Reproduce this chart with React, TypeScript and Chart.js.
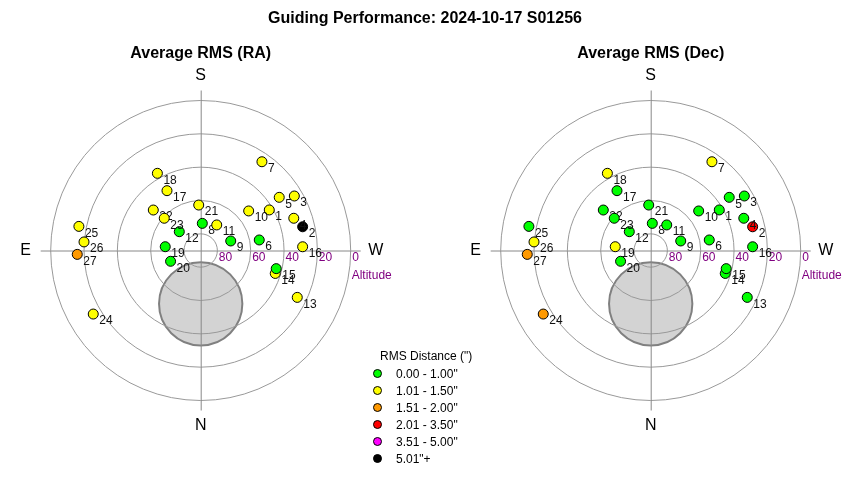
import React, { useEffect, useRef } from "react";
import { Chart, registerables } from "chart.js";

Chart.register(...registerables);

// ---- data ----
const mainTitle = "Guiding Performance: 2024-10-17 S01256";
const panelTitles = ["Average RMS (RA)", "Average RMS (Dec)"];
const sessionIds = [1, 2, 3, 4, 5, 6, 7, 8, 9, 10, 11, 12, 13, 14, 15, 16, 17, 18, 19, 20, 21, 22, 23, 24, 25, 26, 27];
// azimuth in degrees (N = 0, E = 90, S = 180, W = 270)
const azimuths = [239.4, 256.9, 239.8, 250.9, 235.9, 259.8, 214.6, 183.4, 252.4, 230.5, 212.1, 131.3, 295.9, 287.1, 283.5, 267.9, 150.6, 150.7, 96.1, 70.3, 177.5, 130.5, 131.5, 59.4, 101.2, 94.2, 88.2];
// altitude in degrees
const altitudes = [42.2, 27.2, 25.0, 30.9, 33.1, 54.3, 25.3, 73.7, 71.1, 52.7, 71.9, 72.9, 25.6, 43.2, 43.4, 28.8, 48.8, 36.9, 68.6, 70.8, 62.7, 52.6, 60.8, 15.1, 15.5, 19.8, 15.9];
// RMS bin index per session (see binLabels)
const raBins = [1, 5, 1, 1, 1, 0, 1, 0, 0, 1, 1, 0, 1, 1, 0, 1, 1, 1, 0, 0, 1, 1, 1, 1, 1, 1, 2];
const decBins = [0, 3, 0, 0, 0, 0, 1, 0, 0, 0, 0, 0, 0, 0, 0, 0, 0, 1, 1, 0, 0, 0, 0, 2, 0, 1, 2];
const legendTitle = 'RMS Distance (")';
const binLabels = ['0.00 - 1.00"', '1.01 - 1.50"', '1.51 - 2.00"', '2.01 - 3.50"', '3.51 - 5.00"', '5.01"+'];
const binColors = ["#00ff00", "#ffff00", "#ff9900", "#ff0000", "#ff00ff", "#000000"];
const altitudeRings = [80, 60, 40, 20, 0];
const altitudeAxisTitle = "Altitude";
const directionLabels = ["S", "N", "E", "W"];
const directionAzimuths = [180, 0, 90, 270];
const excludedZone = { azimuth: 0, altitude: 58, radius: 25 };

const FONT = "'Liberation Sans', Arial, Helvetica, sans-serif";
const DEG_RANGE = 110;

function toXY(az: number, alt: number, dist?: number) {
  const d = dist !== undefined ? dist : 90 - alt;
  const a = (az * Math.PI) / 180;
  return { x: -d * Math.sin(a), y: -d * Math.cos(a) };
}

function makeSkyPlugin(title: string, bins: number[]) {
  return {
    id: "skyPlot",
    beforeDatasetsDraw(chart: any) {
      const ctx = chart.ctx as CanvasRenderingContext2D;
      const xs = chart.scales.x;
      const ys = chart.scales.y;
      const cx = xs.getPixelForValue(0);
      const cy = ys.getPixelForValue(0);
      const pxPerDeg = xs.getPixelForValue(1) - cx;
      ctx.save();
      // excluded zone
      const ez = toXY(excludedZone.azimuth, excludedZone.altitude);
      ctx.beginPath();
      ctx.arc(xs.getPixelForValue(ez.x), ys.getPixelForValue(ez.y), excludedZone.radius * pxPerDeg, 0, Math.PI * 2);
      ctx.fillStyle = "#d3d3d3";
      ctx.fill();
      ctx.lineWidth = 2;
      ctx.strokeStyle = "#808080";
      ctx.stroke();
      // rings
      ctx.lineWidth = 1;
      ctx.strokeStyle = "#999999";
      altitudeRings.forEach((alt) => {
        ctx.beginPath();
        ctx.arc(cx, cy, (90 - alt) * pxPerDeg, 0, Math.PI * 2);
        ctx.stroke();
      });
      // axes
      ctx.strokeStyle = "#888888";
      ctx.beginPath();
      ctx.moveTo(xs.getPixelForValue(-96), cy + 0.5);
      ctx.lineTo(xs.getPixelForValue(96), cy + 0.5);
      ctx.moveTo(cx + 0.5, ys.getPixelForValue(96));
      ctx.lineTo(cx + 0.5, ys.getPixelForValue(-96));
      ctx.stroke();
      // altitude labels
      ctx.fillStyle = "#800080";
      ctx.font = `12px ${FONT}`;
      ctx.textAlign = "left";
      ctx.textBaseline = "middle";
      altitudeRings.forEach((alt) => {
        ctx.fillText(String(alt), xs.getPixelForValue(90 - alt) + 1.5, cy + 7.5);
      });
      ctx.fillText(altitudeAxisTitle, xs.getPixelForValue(90) + 1, cy + 25);
      // direction labels
      ctx.fillStyle = "#000";
      ctx.font = `16px ${FONT}`;
      ctx.textAlign = "center";
      directionLabels.forEach((lab, i) => {
        const p = toXY(directionAzimuths[i], 0, 105);
        ctx.fillText(lab, xs.getPixelForValue(p.x), ys.getPixelForValue(p.y));
      });
      // panel title
      ctx.font = `bold 16px ${FONT}`;
      ctx.fillText(title, cx, 54);
      ctx.restore();
    },
    afterDatasetDraw(chart: any, args: any) {
      const el = args.meta.data[0];
      if (!el) return;
      const ctx = chart.ctx as CanvasRenderingContext2D;
      ctx.save();
      ctx.fillStyle = "#111";
      ctx.font = `12px ${FONT}`;
      ctx.textAlign = "left";
      ctx.textBaseline = "middle";
      ctx.fillText(String(sessionIds[args.index]), el.x + 6, el.y + 7);
      ctx.restore();
    },
  };
}

function buildChart(canvas: HTMLCanvasElement, title: string, bins: number[], centerX: number, centerY: number) {
  const span = (DEG_RANGE * 5) / 3;
  const w = canvas.width;
  const h = canvas.height;
  return new Chart(canvas, {
    type: "scatter",
    data: {
      datasets: sessionIds.map((id, i) => ({
        label: String(id),
        data: [toXY(azimuths[i], altitudes[i])],
        backgroundColor: binColors[bins[i]],
        borderColor: "#000",
        borderWidth: 1,
        pointRadius: 5,
        pointHoverRadius: 5,
        order: -i,
        clip: false as any,
      })),
    },
    options: {
      responsive: false,
      animation: false,
      events: [],
      layout: {
        padding: {
          left: centerX - span,
          right: w - (centerX + span),
          top: centerY - span,
          bottom: h - (centerY + span),
        },
      },
      scales: {
        x: { type: "linear", min: -DEG_RANGE, max: DEG_RANGE, display: false },
        y: { type: "linear", min: -DEG_RANGE, max: DEG_RANGE, display: false },
      },
      plugins: {
        legend: { display: false },
        tooltip: { enabled: false },
        title: { display: false },
      },
    },
    plugins: [makeSkyPlugin(title, bins)],
  } as any);
}

export default function App() {
  const leftRef = useRef<HTMLCanvasElement>(null);
  const rightRef = useRef<HTMLCanvasElement>(null);

  useEffect(() => {
    const charts: Chart[] = [];
    if (leftRef.current) charts.push(buildChart(leftRef.current, panelTitles[0], raBins, 200.7, 250.5));
    if (rightRef.current) charts.push(buildChart(rightRef.current, panelTitles[1], decBins, 225.7, 250.5));
    return () => charts.forEach((c) => c.destroy());
  }, []);

  return (
    <div style={{ position: "absolute", left: 0, top: 0, width: 850, height: 480, background: "#fff", fontFamily: FONT, overflow: "hidden" }}>
      <canvas ref={leftRef} width={425} height={480} style={{ position: "absolute", left: 0, top: 0, width: 425, height: 480 }} />
      <canvas ref={rightRef} width={425} height={480} style={{ position: "absolute", left: 425, top: 0, width: 425, height: 480 }} />
      <div style={{ position: "absolute", left: 0, top: 8, width: 850, textAlign: "center", fontWeight: "bold", fontSize: 16, lineHeight: "20px", color: "#000" }}>
        {mainTitle}
      </div>
      <div style={{ position: "absolute", left: 380, top: 349, fontSize: 12, lineHeight: "15px", color: "#000", whiteSpace: "nowrap" }}>
        {legendTitle}
      </div>
      {binLabels.map((lab, i) => (
        <div key={lab} style={{ position: "absolute", left: 373, top: 365 + i * 17, height: 17, display: "flex", alignItems: "center", fontSize: 12, color: "#000", whiteSpace: "nowrap" }}>
          <span style={{ display: "inline-block", width: 7, height: 7, borderRadius: "50%", background: binColors[i], border: "1px solid #000", marginRight: 14 }} />
          <span>{lab}</span>
        </div>
      ))}
    </div>
  );
}
